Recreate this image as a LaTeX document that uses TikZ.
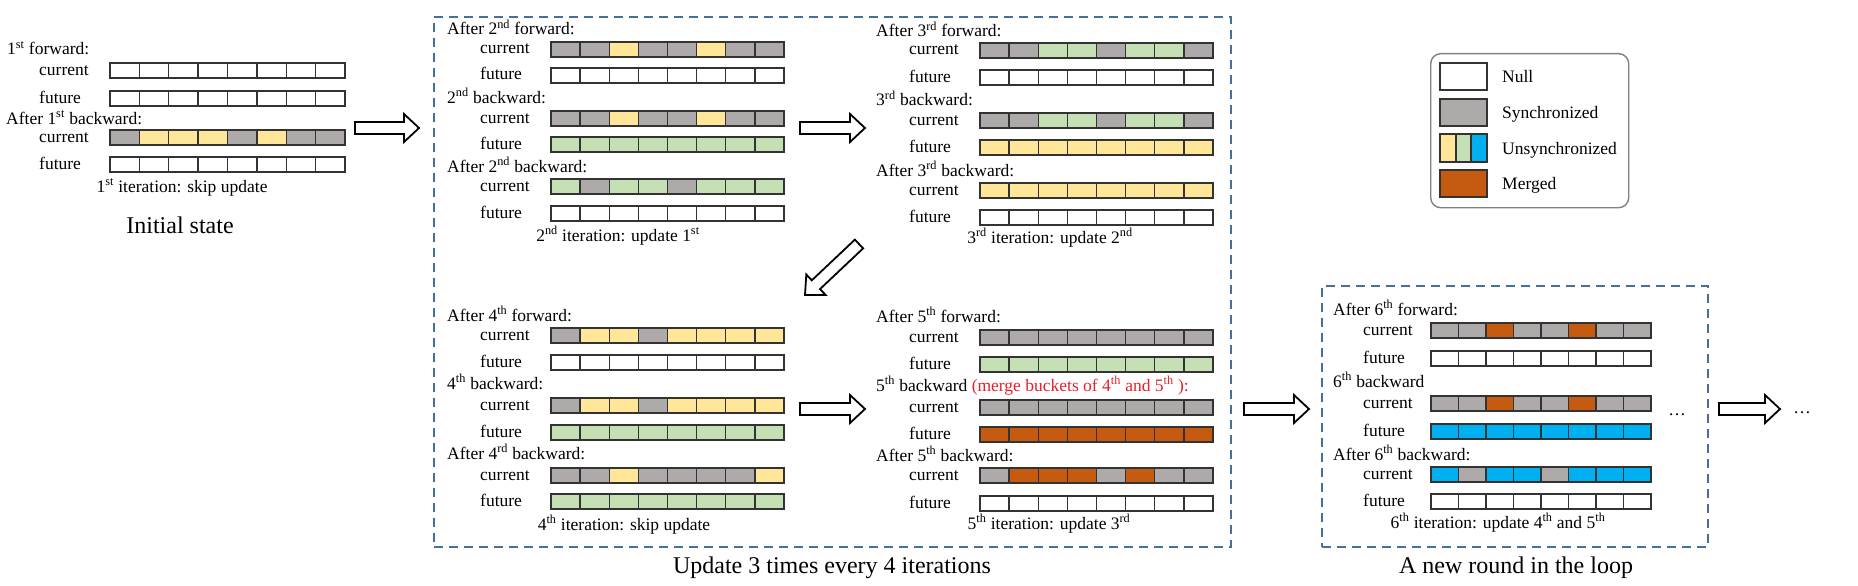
\documentclass[tikz,border=0pt]{standalone}
\usepackage{fontspec}
\setmainfont{Liberation Serif}
\usetikzlibrary{calc}
\definecolor{cW}{HTML}{FFFFFF}
\definecolor{cG}{HTML}{AEAAAA}
\definecolor{cY}{HTML}{FFE699}
\definecolor{cN}{HTML}{C5E0B4}
\definecolor{cB}{HTML}{00B0F0}
\definecolor{cO}{HTML}{C55A11}
\definecolor{dashc}{HTML}{44709A}
\definecolor{redt}{HTML}{E8202A}
\definecolor{edgec}{HTML}{333333}
\newcommand\cellrow[4]{%
  \foreach \cc [count=\ii from 0] in {#4} {
    \draw[cellbox, fill=c\cc] ({#1+\ii*#3},#2) rectangle ++(#3,15);
  }}
\newcommand\blockarrow[2]{%
  \coordinate (hb) at ($(#2)!15pt!(#1)$);
  \draw[blockarr] ($(#1)!6pt!90:(#2)$) -- ($(hb)!6pt!90:(#2)$) -- ($(hb)!14pt!90:(#2)$) -- (#2)
    -- ($(hb)!14pt!-90:(#2)$) -- ($(hb)!6pt!-90:(#2)$) -- ($(#1)!6pt!-90:(#2)$) -- cycle;}
\newcommand\sx[1]{\textsuperscript{#1}}
\begin{document}
\begin{tikzpicture}[x=1pt,y=-1pt,
  cellbox/.style={draw=edgec, line width=1.4},
  blockarr/.style={draw=black, line width=1.8, fill=white, line join=miter},
  lbl/.style={anchor=base west, inner sep=0, font=\fontsize{17.5}{20}\selectfont},
  capt/.style={anchor=base, inner sep=0, font=\fontsize{17.5}{20}\selectfont},
  ttl/.style={anchor=base, inner sep=0, font=\fontsize{24}{28}\selectfont},
  dashbox/.style={draw=dashc, line width=2, dash pattern=on 9pt off 6pt, anchor=north west, inner sep=0},
  legbox/.style={draw=gray, line width=1.4, rounded corners=10pt, anchor=north west, inner sep=0},
  swatch/.style={draw=edgec, line width=1.8}]
\useasboundingbox (0,0) rectangle (1858,586);
\fill[white] (0,0) rectangle (1858,586);

% dashed boxes
\node[dashbox, minimum width=797pt, minimum height=530pt] (mainbox) at (433,16) {};
\node[dashbox, minimum width=386pt, minimum height=261pt] (newbox) at (1321,285) {};

% ---------- Initial state ----------
\node[lbl] (h11) at (7,55) {1\sx{st} forward:};
\node[lbl] (c11) at (39,75) {current};
\node[lbl] (f11) at (39,103) {future};
\node[lbl] (h12) at (6,124) {After 1\sx{st} backward:};
\node[lbl] (c12) at (39,142) {current};
\node[lbl] (f12) at (39,169) {future};
\cellrow{110}{63}{29.375}{W,W,W,W,W,W,W,W}
\cellrow{110}{91}{29.375}{W,W,W,W,W,W,W,W}
\cellrow{110}{130}{29.375}{G,Y,Y,Y,G,Y,G,G}
\cellrow{110}{157}{29.375}{W,W,W,W,W,W,W,W}
\node[capt] (cap1) at (182,192) {1\sx{st} iteration: skip update};
\node[ttl] (t1) at (180,233) {Initial state};

% ---------- 2nd ----------
\node[lbl] (h21) at (447,35) {After 2\sx{nd} forward:};
\node[lbl] (c21) at (480,54) {current};
\node[lbl] (f21) at (480,80) {future};
\node[lbl] (h22) at (447,103) {2\sx{nd} backward:};
\node[lbl] (c22) at (480,123) {current};
\node[lbl] (f22) at (480,149) {future};
\node[lbl] (h23) at (447,172) {After 2\sx{nd} backward:};
\node[lbl] (c23) at (480,191) {current};
\node[lbl] (f23) at (480,218) {future};
\cellrow{551}{42}{29.125}{G,G,Y,G,G,Y,G,G}
\cellrow{551}{68}{29.125}{W,W,W,W,W,W,W,W}
\cellrow{551}{111}{29.125}{G,G,Y,G,G,Y,G,G}
\cellrow{551}{137}{29.125}{N,N,N,N,N,N,N,N}
\cellrow{551}{179}{29.125}{N,G,N,N,G,N,N,N}
\cellrow{551}{206}{29.125}{W,W,W,W,W,W,W,W}
\node[capt] (cap2) at (618,241) {2\sx{nd} iteration: update 1\sx{st}};

% ---------- 3rd ----------
\node[lbl] (h31) at (876,37) {After 3\sx{rd} forward:};
\node[lbl] (c31) at (909,55) {current};
\node[lbl] (f31) at (909,82) {future};
\node[lbl] (h32) at (876,106) {3\sx{rd} backward:};
\node[lbl] (c32) at (909,125) {current};
\node[lbl] (f32) at (909,152) {future};
\node[lbl] (h33) at (876,176) {After 3\sx{rd} backward:};
\node[lbl] (c33) at (909,195) {current};
\node[lbl] (f33) at (909,222) {future};
\cellrow{980}{43}{29.125}{G,G,N,N,G,N,N,G}
\cellrow{980}{70}{29.125}{W,W,W,W,W,W,W,W}
\cellrow{980}{113}{29.125}{G,G,N,N,G,N,N,G}
\cellrow{980}{140}{29.125}{Y,Y,Y,Y,Y,Y,Y,Y}
\cellrow{980}{183}{29.125}{Y,Y,Y,Y,Y,Y,Y,Y}
\cellrow{980}{210}{29.125}{W,W,W,W,W,W,W,W}
\node[capt] (cap3) at (1050,243) {3\sx{rd} iteration: update 2\sx{nd}};

% ---------- 4th ----------
\node[lbl] (h41) at (447,321) {After 4\sx{th} forward:};
\node[lbl] (c41) at (480,340) {current};
\node[lbl] (f41) at (480,367) {future};
\node[lbl] (h42) at (447,389) {4\sx{th} backward:};
\node[lbl] (c42) at (480,410) {current};
\node[lbl] (f42) at (480,437) {future};
\node[lbl] (h43) at (447,459) {After 4\sx{rd} backward:};
\node[lbl] (c43) at (480,480) {current};
\node[lbl] (f43) at (480,506) {future};
\cellrow{551}{328}{29.125}{G,Y,Y,G,Y,Y,Y,Y}
\cellrow{551}{355}{29.125}{W,W,W,W,W,W,W,W}
\cellrow{551}{398}{29.125}{G,Y,Y,G,Y,Y,Y,Y}
\cellrow{551}{425}{29.125}{N,N,N,N,N,N,N,N}
\cellrow{551}{468}{29.125}{G,G,Y,G,G,G,G,Y}
\cellrow{551}{494}{29.125}{N,N,N,N,N,N,N,N}
\node[capt] (cap4) at (624,530) {4\sx{th} iteration: skip update};

% ---------- 5th ----------
\node[lbl] (h51) at (876,322) {After 5\sx{th} forward:};
\node[lbl] (c51) at (909,342) {current};
\node[lbl] (f51) at (909,369) {future};
\node[lbl] (h52) at (876,391) {5\sx{th} backward \textcolor{redt}{(merge buckets of 4\sx{th} and 5\sx{th} ):}};
\node[lbl] (c52) at (909,412) {current};
\node[lbl] (f52) at (909,439) {future};
\node[lbl] (h53) at (876,461) {After 5\sx{th} backward:};
\node[lbl] (c53) at (909,480) {current};
\node[lbl] (f53) at (909,508) {future};
\cellrow{980}{330}{29.125}{G,G,G,G,G,G,G,G}
\cellrow{980}{357}{29.125}{N,N,N,N,N,N,N,N}
\cellrow{980}{400}{29.125}{G,G,G,G,G,G,G,G}
\cellrow{980}{427}{29.125}{O,O,O,O,O,O,O,O}
\cellrow{980}{468}{29.125}{G,O,O,O,G,O,G,G}
\cellrow{980}{496}{29.125}{W,W,W,W,W,W,W,W}
\node[capt] (cap5) at (1049,529) {5\sx{th} iteration: update 3\sx{rd}};

% ---------- 6th ----------
\node[lbl] (h61) at (1333,315) {After 6\sx{th} forward:};
\node[lbl] (c61) at (1363,335) {current};
\node[lbl] (f61) at (1363,363) {future};
\node[lbl] (h62) at (1333,387) {6\sx{th} backward};
\node[lbl] (c62) at (1363,408) {current};
\node[lbl] (f62) at (1363,436) {future};
\node[lbl] (h63) at (1333,460) {After 6\sx{th} backward:};
\node[lbl] (c63) at (1363,479) {current};
\node[lbl] (f63) at (1363,506) {future};
\cellrow{1431}{323}{27.5}{G,G,O,G,G,O,G,G}
\cellrow{1431}{351}{27.5}{W,W,W,W,W,W,W,W}
\cellrow{1431}{396}{27.5}{G,G,O,G,G,O,G,G}
\cellrow{1431}{424}{27.5}{B,B,B,B,B,B,B,B}
\cellrow{1431}{467}{27.5}{B,G,B,B,G,B,B,B}
\cellrow{1431}{494}{27.5}{W,W,W,W,W,W,W,W}
\node[capt] (cap6) at (1498,528) {6\sx{th} iteration: update 4\sx{th} and 5\sx{th}};
\node[capt] (dots1) at (1677,415) {\ldots};
\node[capt] (dots2) at (1802,413) {\ldots};

% titles
\node[ttl] (t2) at (832,573) {Update 3 times every 4 iterations};
\node[ttl] (t3) at (1516,573) {A new round in the loop};

% ---------- legend ----------
\node[legbox, minimum width=198pt, minimum height=154pt] (leg) at (1430,53) {};
\draw[swatch, fill=cW] (1440,63) rectangle (1487,90);
\draw[swatch, fill=cG] (1440,99) rectangle (1487,126);
\fill[cY] (1440,134) rectangle (1456,162);
\fill[cN] (1456,134) rectangle (1471,162);
\fill[cB] (1471,134) rectangle (1487,162);
\draw[edgec, line width=1.4] (1456,134) -- (1456,162) (1471,134) -- (1471,162);
\draw[swatch] (1440,134) rectangle (1487,162);
\draw[swatch, fill=cO] (1440,170) rectangle (1487,197);
\node[lbl] (lnull) at (1502,82) {Null};
\node[lbl] (lsync) at (1502,118) {Synchronized};
\node[lbl] (lunsync) at (1502,154) {Unsynchronized};
\node[lbl] (lmerged) at (1502,189) {Merged};

% ---------- block arrows ----------
\coordinate (a1t) at (355,128); \coordinate (a1h) at (419,128);
\coordinate (a2t) at (800,128); \coordinate (a2h) at (865,128);
\coordinate (a3t) at (859,244); \coordinate (a3h) at (805,295);
\coordinate (a4t) at (800,409); \coordinate (a4h) at (865,409);
\coordinate (a5t) at (1244,409); \coordinate (a5h) at (1309,409);
\coordinate (a6t) at (1719,409); \coordinate (a6h) at (1780,409);
\blockarrow{a1t}{a1h}
\blockarrow{a2t}{a2h}
\blockarrow{a3t}{a3h}
\blockarrow{a4t}{a4h}
\blockarrow{a5t}{a5h}
\blockarrow{a6t}{a6h}
\end{tikzpicture}
\end{document}
